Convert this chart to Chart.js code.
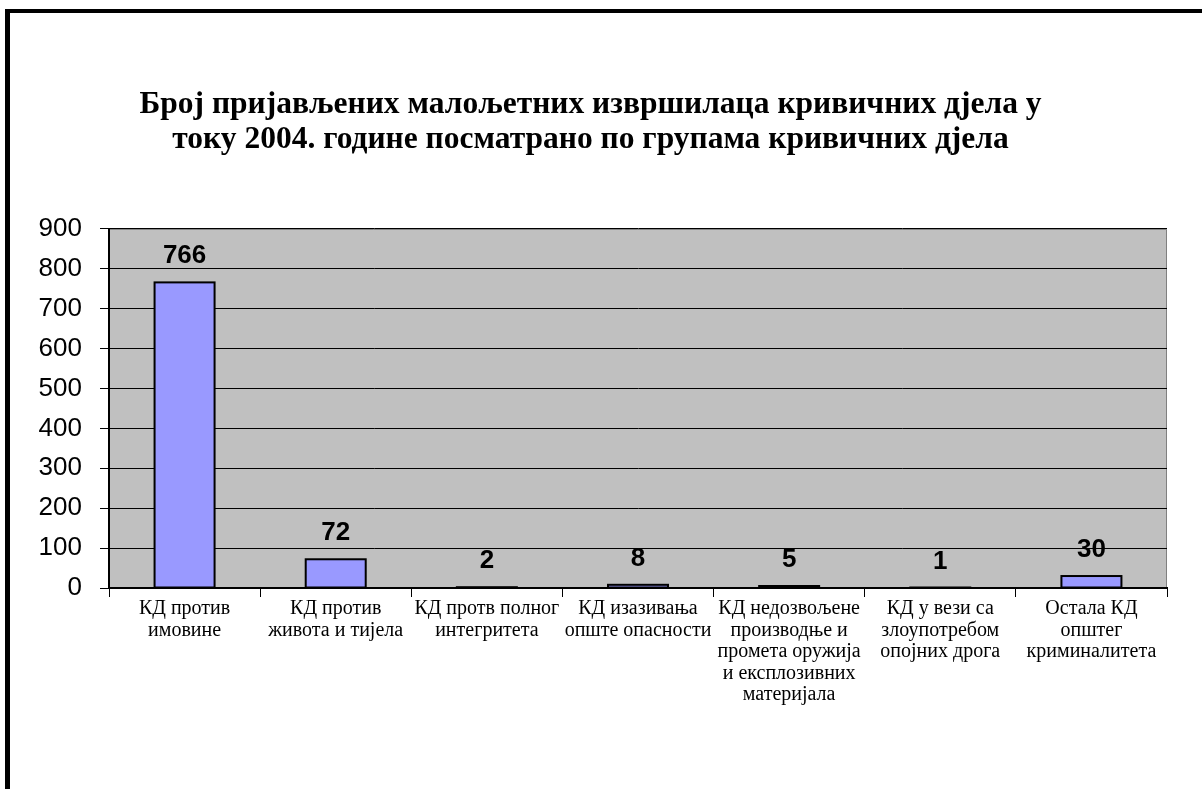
<!DOCTYPE html>
<html>
<head>
<meta charset="utf-8">
<script src="https://cdn.jsdelivr.net/npm/chart.js@4/dist/chart.umd.min.js"></script>
<style>
  body { margin: 0; background: #fff; }
  #wrap { position: relative; width: 1202px; height: 789px; overflow: hidden; }
  #frame { position: absolute; left: 5px; top: 9px; right: -10px; bottom: -10px;
           border-top: 4px solid #000; border-left: 5px solid #000; pointer-events: none; }
</style>
</head>
<body>
<div id="wrap">
  <canvas id="myChart" width="1202" height="789"></canvas>
  <div id="frame"></div>
</div>
<script>
// Categories, values and ticks
const categories = [
    ['КД против', 'имовине'],
    ['КД против', 'живота и тијела'],
    ['КД протв полног', 'интегритета'],
    ['КД изазивања', 'опште опасности'],
    ['КД недозвољене', 'производње и', 'промета оружија', 'и експлозивних', 'материјала'],
    ['КД у вези са', 'злоупотребом', 'опојних дрога'],
    ['Остала КД', 'општег', 'криминалитета']
];
const offenders = [766, 72, 2, 8, 5, 1, 30];
const yMin = 0;
const yMax = 900;
const yStep = 100;

const titleLines = [
    'Број пријављених малољетних извршилаца кривичних дјела у',
    'току 2004. године посматрано по групама кривичних дјела'
];

// grey plot area like the old excel charts
const plotBackground = {
    id: 'plotBackground',
    beforeDraw(chart) {
        const a = chart.chartArea;
        const c = chart.ctx;
        c.save();
        c.fillStyle = '#C0C0C0';
        c.fillRect(a.left, a.top, a.right - a.left, a.bottom - a.top);
        c.strokeStyle = '#808080';
        c.lineWidth = 1;
        c.beginPath();
        c.moveTo(a.left, a.top + 0.5);
        c.lineTo(a.right - 0.5, a.top + 0.5);
        c.lineTo(a.right - 0.5, a.bottom);
        c.stroke();
        c.restore();
    }
};

// excel strokes the bar outline outside the fill, so even tiny bars show up as a black line
const barOutline = {
    id: 'barOutline',
    afterDatasetsDraw(chart) {
        const c = chart.ctx;
        const meta = chart.getDatasetMeta(0);
        c.save();
        c.strokeStyle = '#000';
        c.lineWidth = 2;
        meta.data.forEach((bar) => {
            const w = bar.width;
            c.strokeRect(bar.x - w / 2, bar.y, w, bar.base - bar.y);
        });
        c.restore();
    }
};

// value labels above bars
const valueLabels = {
    id: 'valueLabels',
    afterDatasetsDraw(chart) {
        const c = chart.ctx;
        const meta = chart.getDatasetMeta(0);
        c.save();
        c.font = 'bold 26px "Liberation Sans", Arial, sans-serif';
        c.fillStyle = '#000';
        c.textAlign = 'center';
        c.textBaseline = 'alphabetic';
        meta.data.forEach((bar, i) => {
            c.fillText(String(offenders[i]), bar.x, bar.y - 19);
        });
        c.restore();
    }
};

const data = {
    labels: categories,
    datasets: [
        {
            label: 'Број малољетних извршилаца',
            data: offenders,
            backgroundColor: '#9999FF',
            borderWidth: 0,
            categoryPercentage: 1.0,
            barPercentage: 0.397
        }
    ]
};

const config = {
    type: 'bar',
    data: data,
    options: {
        responsive: false,
        animation: false,
        layout: {
            padding: { left: 14, right: 35, top: 0, bottom: 0 }
        },
        plugins: {
            legend: { display: false },
            tooltip: { enabled: false },
            title: {
                display: true,
                text: titleLines,
                color: '#000',
                font: { family: '"Liberation Serif", "Times New Roman", serif', size: 31.5, weight: 'bold', lineHeight: 1.11 },
                padding: { top: 87, bottom: 72 }
            }
        },
        scales: {
            x: {
                grid: {
                    display: true,
                    drawOnChartArea: false,
                    drawTicks: true,
                    tickLength: 9,
                    color: '#000',
                    offset: true
                },
                border: { display: true, color: '#000', width: 2 },
                ticks: {
                    color: '#000',
                    autoSkip: false,
                    maxRotation: 0,
                    minRotation: 0,
                    padding: 1,
                    font: { family: '"Liberation Serif", "Times New Roman", serif', size: 20, lineHeight: 1.08 }
                },
                afterFit(scale) {
                    scale.height = 201;
                }
            },
            y: {
                min: yMin,
                max: yMax,
                grid: {
                    color: '#000',
                    lineWidth: 1,
                    tickLength: 9
                },
                border: { display: true, color: '#000', width: 2 },
                ticks: {
                    stepSize: yStep,
                    color: '#000',
                    padding: 18,
                    font: { family: '"Liberation Sans", Arial, sans-serif', size: 26 }
                },
                afterFit(scale) {
                    scale.width = 95;
                }
            }
        }
    },
    plugins: [plotBackground, barOutline, valueLabels]
};

const ctx = document.getElementById('myChart').getContext('2d');
new Chart(ctx, config);
</script>
</body>
</html>
